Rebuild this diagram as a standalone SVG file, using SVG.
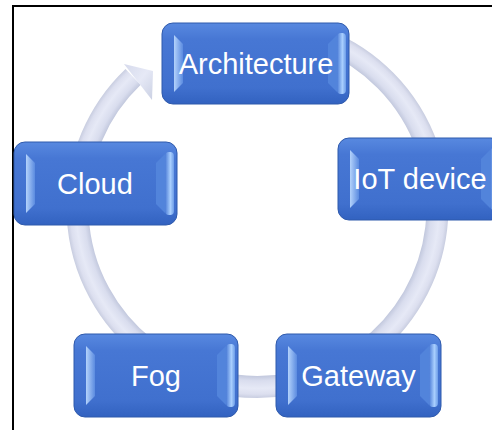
<svg xmlns="http://www.w3.org/2000/svg" width="492" height="430" viewBox="0 0 492 430">
  <defs>
    <linearGradient id="boxFill" x1="0" y1="0" x2="0" y2="1">
      <stop offset="0" stop-color="#5889e0"/>
      <stop offset="0.2" stop-color="#4777d4"/>
      <stop offset="0.8" stop-color="#4070ce"/>
      <stop offset="1" stop-color="#3262c0"/>
    </linearGradient>
    <linearGradient id="bevL" x1="0" y1="0" x2="1" y2="0">
      <stop offset="0" stop-color="#b3d2fb"/>
      <stop offset="1" stop-color="#5b8be0"/>
    </linearGradient>
    <linearGradient id="bevR" x1="0" y1="0" x2="1" y2="0">
      <stop offset="0" stop-color="#4b7cd7"/>
      <stop offset="0.6" stop-color="#a9cffe"/>
      <stop offset="1" stop-color="#6d9de8"/>
    </linearGradient>
    <radialGradient id="ringGrad" gradientUnits="userSpaceOnUse" cx="257.5" cy="207" r="191">
      <stop offset="0.885" stop-color="#c3c9de"/>
      <stop offset="0.91" stop-color="#d9ddee"/>
      <stop offset="0.95" stop-color="#e6e9f6"/>
      <stop offset="0.98" stop-color="#dcdfef"/>
      <stop offset="1" stop-color="#c8cde0"/>
    </radialGradient>
    <linearGradient id="headGrad" x1="0" y1="0" x2="1" y2="1">
      <stop offset="0" stop-color="#d6daec"/>
      <stop offset="0.5" stop-color="#e6e9f6"/>
      <stop offset="1" stop-color="#cad0e3"/>
    </linearGradient>
  </defs>
  <style>
    .box { fill: url(#boxFill); stroke: #2f5aac; stroke-width: 1; }
    .bl { fill: url(#bevL); }
    .br { fill: url(#bevR); }
    .bi { fill: #5284db; }
    .lbl { font-family: "Liberation Sans", Arial, sans-serif; font-size: 29px; fill: #ffffff; text-anchor: middle; }
    .frame { stroke: #000000; stroke-width: 2; fill: none; }
  </style>
  <rect width="492" height="430" fill="#ffffff"/>
  <path class="frame" d="M13,430 V6 H492"/>

  <g id="connectors">
    <path d="M324.9,40.1 A180,180 0 1 1 133.1,76.9" fill="none" stroke="url(#ringGrad)" stroke-width="22"/>
    <polygon points="124,64 153,71 152,100" fill="url(#headGrad)"/>
  </g>

  <g id="architecture">
    <rect class="box" x="162" y="23" width="187" height="81" rx="11"/>
    <polygon class="bl" points="174,35 183,44 183,83 174,92"/>
    <polygon class="bi" points="337,35 328,44 328,83 337,92"/>
    <rect class="br" x="337" y="33" width="9" height="61" rx="4"/>
    <text class="lbl" x="256" y="74">Architecture</text>
  </g>

  <g id="iot-device">
    <rect class="box" x="338" y="138" width="164" height="82" rx="11"/>
    <polygon class="bl" points="350,150 359,159 359,199 350,208"/>
    <polygon class="bi" points="490,150 481,159 481,199 490,208"/>
    <rect class="br" x="490" y="148" width="9" height="62" rx="4"/>
    <text class="lbl" x="420" y="189">IoT device</text>
  </g>

  <g id="cloud">
    <rect class="box" x="14" y="142" width="163" height="83" rx="11"/>
    <polygon class="bl" points="26,154 35,163 35,204 26,213"/>
    <polygon class="bi" points="165,154 156,163 156,204 165,213"/>
    <rect class="br" x="165" y="152" width="9" height="63" rx="4"/>
    <text class="lbl" x="95" y="194">Cloud</text>
  </g>

  <g id="fog">
    <rect class="box" x="74" y="334" width="164" height="83" rx="11"/>
    <polygon class="bl" points="86,346 95,355 95,396 86,405"/>
    <polygon class="bi" points="226,346 217,355 217,396 226,405"/>
    <rect class="br" x="226" y="344" width="9" height="63" rx="4"/>
    <text class="lbl" x="156" y="386">Fog</text>
  </g>

  <g id="gateway">
    <rect class="box" x="276" y="334" width="165" height="83" rx="11"/>
    <polygon class="bl" points="288,346 297,355 297,396 288,405"/>
    <polygon class="bi" points="429,346 420,355 420,396 429,405"/>
    <rect class="br" x="429" y="344" width="9" height="63" rx="4"/>
    <text class="lbl" x="358.5" y="386">Gateway</text>
  </g>
</svg>
